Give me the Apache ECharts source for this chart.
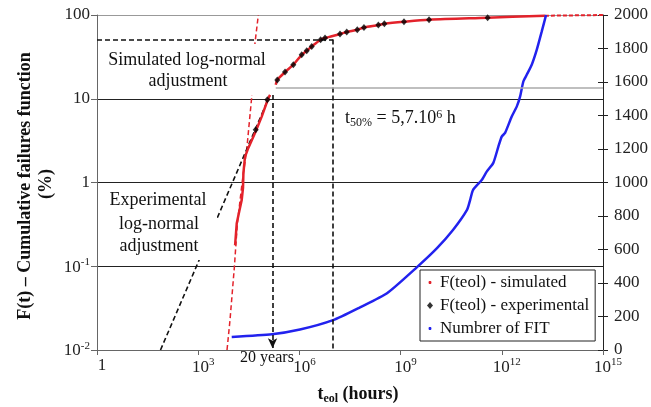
<!DOCTYPE html>
<html><head><meta charset="utf-8">
<script src="https://cdn.jsdelivr.net/npm/echarts@6/dist/echarts.min.js"></script>
<style>html,body{margin:0;padding:0;background:#fff}#c{width:651px;height:407px}</style>
</head><body><div id="c"></div>
<script>
// ---- data (t_eol in hours, F in %, FIT count) ----
const xTicks = [1, 1e3, 1e6, 1e9, 1e12, 1e15];
const yTicksLeft = [0.01, 0.1, 1, 10, 100];
const simFitT = [7150, 8770, 11800, 14500, 20500, 27400, 38600, 48300, 60500];
const simFitF = [0.01, 0.0228, 0.0975, 0.327, 1.07, 2.45, 10.5, 46.6, 99.5];
const simLowT = [12400, 13900, 16800, 19500, 21300, 21900, 24400, 30600, 48300, 76400, 120000, 135000];
const simLowF = [0.178, 0.327, 0.47, 0.62, 0.86, 1.3, 2.02, 2.59, 3.91, 6.12, 10.2, 11.1];
const simUpT = [199000, 221000, 375000, 660000, 1170000, 1650000, 2320000, 4260000, 5750000, 1.6e7, 2.53e7, 5.2e7, 8.2e7, 2.19e8, 3.3e8, 1.26e9, 6.97e9, 3.8e11, 1.9e13];
const simUpF = [14.7, 16.8, 20.8, 25.5, 33.5, 37.4, 42.1, 50.7, 53.1, 59.3, 62.7, 66.7, 71.1, 75.9, 78.7, 83.2, 87.9, 92.9, 98.1];
const simTailT = [1.9e13, 1e15];
const simTailF = [98.1, 99.9];
const expT = [50700, 112000, 221000, 375000, 660000, 1170000, 1650000, 2320000, 4260000, 5750000, 1.6e7, 2.53e7, 5.2e7, 8.2e7, 2.19e8, 3.3e8, 1.26e9, 6.97e9, 3.8e11];
const expF = [4.25, 9.7, 16.8, 20.8, 25.5, 33.5, 37.4, 42.1, 50.7, 53.1, 59.3, 62.7, 66.7, 71.1, 75.9, 78.7, 83.2, 87.9, 92.9];
const expFitT = [76.3, 135000];
const expFitF = [0.01, 11.1];
const fitT = [9850, 154000, 1.04e6, 9.9e6, 6.27e7, 3.96e8, 3.07e9, 1.2e10, 3.57e10, 9.3e10, 1.15e11, 1.4e11, 2.54e11, 3.57e11, 5.6e11, 7.9e11, 9.95e11, 1.25e12, 1.97e12, 2.77e12, 3.48e12, 4.35e12, 5.49e12, 7.72e12, 1.09e13, 1.53e13, 2.05e13];
const fitN = [78, 94, 122, 178, 255, 339, 495, 608, 716, 836, 895, 955, 1015, 1065, 1117, 1214, 1274, 1296, 1394, 1453, 1513, 1603, 1643, 1703, 1793, 1902, 2000];
const t50 = 1e7, f50 = 51;
const t20y = 1.6e5, f20yTop = 11.1;
const greyT = [199000, 1e15], greyF = 13.5;

const FONT = '"Liberation Serif","Times New Roman",serif';
const zip = (a, b) => a.map((v, i) => [v, b[i]]);
const RED = '#e3222b', BLUE = '#2222ee';

const supRich = {
  b: {fontFamily: FONT, fontSize: 17, color: '#222', verticalAlign: 'bottom'},
  s: {fontFamily: FONT, fontSize: 11, color: '#222', verticalAlign: 'bottom', padding: [0, 0, 8, 0]}
};
const expLabel = v => {
  const e = Math.round(Math.log10(v));
  if (e >= 0 && e <= 2) return '{b|' + Math.pow(10, e) + '}';
  return '{b|10}{s|' + e + '}';
};

const chart = echarts.init(document.getElementById('c'));
const option = {
  animation: false,
  backgroundColor: '#fff',
  grid: {left: 97, right: 48, top: 15, bottom: 57},
  xAxis: {
    type: 'log', logBase: 10, min: 1, max: 1e15, interval: 3,
    axisLine: {lineStyle: {color: '#666', width: 1}},
    axisTick: {length: 5, lineStyle: {color: '#666'}},
    minorTick: {show: false},
    splitLine: {show: false},
    axisLabel: {formatter: expLabel, rich: supRich, margin: 7, padding: [0, 0, 0, 10]}
  },
  yAxis: [
    {
      type: 'log', logBase: 10, min: 0.01, max: 100, position: 'left',
      axisLine: {show: true, lineStyle: {color: '#666'}},
      axisTick: {show: true, length: 6, lineStyle: {color: '#666'}},
      splitLine: {show: true, lineStyle: {color: ['#666', '#222', '#222', '#222', '#999'], width: 1}},
      axisLabel: {formatter: expLabel, rich: supRich, margin: 7}
    },
    {
      type: 'value', min: 0, max: 2000, interval: 200, position: 'right',
      axisLine: {show: true, lineStyle: {color: '#222'}},
      axisTick: {show: true, length: 5, lineStyle: {color: '#222'}},
      splitLine: {show: false},
      axisLabel: {formatter: v => String(v), fontFamily: FONT, fontSize: 17, color: '#222', margin: 11}
    },
    {
      type: 'value', min: 0, max: 2000, interval: 200, position: 'right',
      axisLine: {show: false},
      axisTick: {show: true, inside: true, length: 5, lineStyle: {color: '#222'}},
      splitLine: {show: false},
      axisLabel: {show: false}
    }
  ],
  legend: {
    left: 420, top: 270, orient: 'vertical',
    padding: [3, 6, 3, 5], itemGap: 4, itemWidth: 10, itemHeight: 10,
    borderColor: '#222', borderWidth: 1, backgroundColor: '#fff',
    textStyle: {fontFamily: FONT, fontSize: 17, color: '#111', lineHeight: 19},
    data: [
      {name: 'F(teol) - simulated', icon: 'path://M0,0M10,10M4.2,3.6h1.6l0.6,0.6v1.6l-0.6,0.6h-1.6l-0.6,-0.6v-1.6z'},
      {name: 'F(teol) - experimental', icon: 'path://M0,0M10,10M5,1.5L8,5L5,8.5L2,5Z'},
      {name: 'Numbrer of FIT', icon: 'path://M0,0M10,10M4.2,3.6h1.6l0.6,0.6v1.6l-0.6,0.6h-1.6l-0.6,-0.6v-1.6z'}
    ]
  },
  series: [
    {
      name: 'simFit', type: 'line', data: zip(simFitT, simFitF), symbol: 'none', silent: true, z: 3,
      lineStyle: {color: RED, width: 1.5, type: [5, 3]},
      markLine: {
        silent: true, symbol: ['none', 'none'], label: {show: false},
        data: [
          [{coord: [1, f50], lineStyle: {color: '#111', width: 1.6, type: [5, 3]}}, {coord: [t50, f50]}],
          [{coord: [t50, f50], lineStyle: {color: '#111', width: 1.6, type: [5, 3]}}, {coord: [t50, 0.01]}],
          [{coord: [t20y, f20yTop], lineStyle: {color: '#111', width: 1.6, type: [5, 3]}}, {coord: [t20y, 0.0105], symbol: 'arrow', symbolSize: [7, 10]}],
          [{coord: [greyT[0], greyF], lineStyle: {color: '#aaa', width: 1.6, type: 'solid'}}, {coord: [greyT[1], greyF]}]
        ]
      }
    },
    {
      name: 'expFit', type: 'line', data: zip(expFitT, expFitF), symbol: 'none', silent: true, z: 3,
      lineStyle: {color: '#111', width: 1.6, type: [5, 3]}
    },
    {
      name: 'F(teol) - simulated', type: 'line', data: zip(simLowT, simLowF), symbol: 'none', z: 4,
      itemStyle: {color: RED}, lineStyle: {color: RED, width: 2.5}
    },
    {
      name: 'F(teol) - simulated', type: 'line', data: zip(simUpT, simUpF), symbol: 'none', z: 4, smooth: 0.3,
      itemStyle: {color: RED}, lineStyle: {color: RED, width: 2.5}
    },
    {
      name: 'F(teol) - simulated', type: 'line', data: zip(simTailT, simTailF), symbol: 'none', z: 4,
      itemStyle: {color: RED}, lineStyle: {color: RED, width: 2, type: [4, 2]}
    },
    {
      name: 'F(teol) - experimental', type: 'scatter', data: zip(expT, expF), symbol: 'diamond', symbolSize: [6, 7], z: 6,
      itemStyle: {color: '#000'}
    },
    {
      name: 'Numbrer of FIT', type: 'line', yAxisIndex: 1, data: zip(fitT, fitN), symbol: 'none', z: 4, smooth: 0.2,
      itemStyle: {color: BLUE}, lineStyle: {color: BLUE, width: 2.5}
    }
  ],
  graphic: [
    {type: 'rect', z: 50, shape: {x: 103, y: 44, width: 165, height: 51}, style: {fill: '#fff'}},
    {type: 'text', z: 51, style: {text: 'Simulated log-normal', x: 187, y: 60, align: 'center', verticalAlign: 'middle', font: '18px ' + FONT, fill: '#111'}},
    {type: 'text', z: 51, style: {text: 'adjustment', x: 188, y: 81, align: 'center', verticalAlign: 'middle', font: '18px ' + FONT, fill: '#111'}},
    {type: 'rect', z: 50, shape: {x: 100, y: 186, width: 117, height: 74}, style: {fill: '#fff'}},
    {type: 'text', z: 51, style: {text: 'Experimental', x: 158, y: 200, align: 'center', verticalAlign: 'middle', font: '18px ' + FONT, fill: '#111'}},
    {type: 'text', z: 51, style: {text: 'log-normal', x: 159, y: 224, align: 'center', verticalAlign: 'middle', font: '18px ' + FONT, fill: '#111'}},
    {type: 'text', z: 51, style: {text: 'adjustment', x: 159, y: 246, align: 'center', verticalAlign: 'middle', font: '18px ' + FONT, fill: '#111'}},
    {type: 'text', z: 51, style: {
      text: 't{sub|50%} = 5,7.10{sup|6} h', x: 345, y: 118, verticalAlign: 'middle',
      font: '18px ' + FONT, fill: '#111',
      rich: {
        sub: {fontFamily: FONT, fontSize: 12, fill: '#111', verticalAlign: 'top', padding: [9, 0, 0, 0]},
        sup: {fontFamily: FONT, fontSize: 12, fill: '#111', verticalAlign: 'bottom', padding: [0, 0, 8, 0]}
      }
    }},
    {type: 'text', z: 51, style: {text: '20 years', x: 267, y: 358, align: 'center', verticalAlign: 'middle', font: '16px ' + FONT, fill: '#111'}},
    {type: 'text', z: 51, style: {
      text: 't{sub|eol} (hours)', x: 358, y: 394, align: 'center', verticalAlign: 'middle',
      font: 'bold 18px ' + FONT, fill: '#111',
      rich: {sub: {fontFamily: FONT, fontWeight: 'bold', fontSize: 12, fill: '#111', verticalAlign: 'top', padding: [9, 0, 0, 0]}}
    }},
    {type: 'text', z: 51, x: 25, y: 186, rotation: Math.PI / 2, style: {
      text: 'F(t) – Cumulative failures function', x: 0, y: 0, align: 'center', verticalAlign: 'middle',
      font: 'bold 18px ' + FONT, fill: '#111'
    }},
    {type: 'text', z: 51, x: 46, y: 184, rotation: Math.PI / 2, style: {
      text: '(%)', x: 0, y: 0, align: 'center', verticalAlign: 'middle',
      font: 'bold 18px ' + FONT, fill: '#111'
    }}
  ]
};
chart.setOption(option);
</script></body></html>
